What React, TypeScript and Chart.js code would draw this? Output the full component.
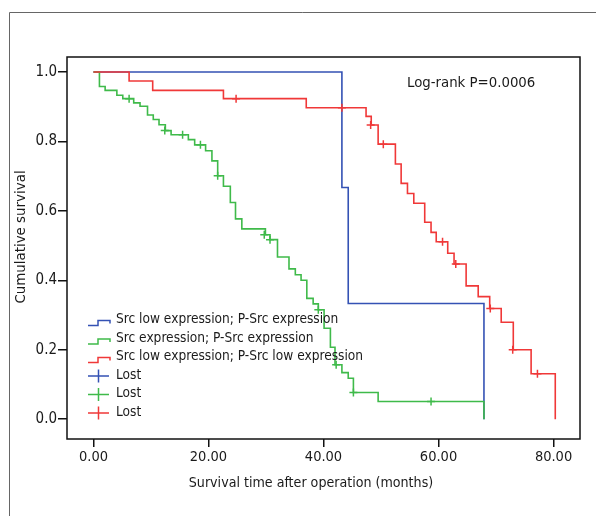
import React, { useEffect, useRef } from 'react';
import { Chart, registerables } from 'chart.js';

Chart.register(...registerables);

const FONT = "'Liberation Sans Narrow', 'DejaVu Sans Condensed', 'Arial Narrow', sans-serif";
const TEXT = '#1a1a1a';

// ---- text ----
const seriesLabels = [
  'Src low expression; P-Src expression',
  'Src expression; P-Src expression',
  'Src low expression; P-Src low expression',
];
const lostLabel = 'Lost';
const logRankText = 'Log-rank P=0.0006';
const xTitle = 'Survival time after operation (months)';
const yTitle = 'Cumulative survival';

// ---- ticks ----
const xTicks = [0, 20, 40, 60, 80];
const yTicks = [0, 0.2, 0.4, 0.6, 0.8, 1.0];

// ---- colours ----
const seriesColors = ['#3452b4', '#3fba4a', '#f03838'];

// ---- blue: Src low; P-Src ----
const blueTime = [0, 43.2, 44.3, 67.9];
const blueSurv = [1, 0.667, 0.333, 0];
const blueLostTime: number[] = [];
const blueLostSurv: number[] = [];

// ---- green: Src; P-Src ----
const greenTime = [0, 1.04, 2.03, 4.07, 5.1, 7.0, 8.1, 9.4, 10.4, 11.4, 12.5, 13.5, 16.5, 17.6, 19.5, 20.6, 21.6, 22.6, 23.8, 24.7, 25.8, 29.9, 30.7, 32.0, 34.0, 35.1, 36.1, 37.1, 38.2, 39.1, 40.1, 41.2, 42.0, 43.2, 44.3, 45.2, 49.5, 67.9];
const greenSurv = [1, 0.958, 0.947, 0.933, 0.923, 0.911, 0.901, 0.876, 0.863, 0.848, 0.831, 0.819, 0.805, 0.790, 0.773, 0.744, 0.701, 0.671, 0.624, 0.577, 0.548, 0.531, 0.517, 0.467, 0.433, 0.416, 0.400, 0.348, 0.332, 0.315, 0.262, 0.207, 0.157, 0.134, 0.118, 0.077, 0.051, 0];
const greenLostTime = [6.2, 12.4, 15.5, 18.6, 21.6, 29.7, 30.7, 39.1, 42.2, 45.2, 58.7];
const greenLostSurv = [0.923, 0.831, 0.819, 0.790, 0.701, 0.531, 0.517, 0.315, 0.157, 0.077, 0.051];

// ---- red: Src low; P-Src low ----
const redTime = [0, 6.2, 10.3, 22.6, 37.0, 47.4, 48.3, 49.5, 52.5, 53.5, 54.6, 55.7, 57.6, 58.7, 59.6, 61.6, 62.7, 64.8, 66.9, 68.9, 70.9, 73.0, 76.1, 80.3];
const redSurv = [1, 0.974, 0.947, 0.923, 0.897, 0.872, 0.847, 0.792, 0.735, 0.679, 0.650, 0.622, 0.567, 0.538, 0.511, 0.478, 0.447, 0.384, 0.353, 0.319, 0.279, 0.200, 0.131, 0];
const redLostTime = [24.8, 43.2, 48.2, 50.4, 60.7, 63.0, 69.0, 72.9, 77.2];
const redLostSurv = [0.923, 0.897, 0.847, 0.792, 0.511, 0.447, 0.319, 0.200, 0.131];

const zip = (xs: number[], ys: number[]) => xs.map((x, i) => ({ x, y: ys[i] }));

const curves = [
  { t: blueTime, s: blueSurv, lt: blueLostTime, ls: blueLostSurv, order: 3 },
  { t: greenTime, s: greenSurv, lt: greenLostTime, ls: greenLostSurv, order: 2 },
  { t: redTime, s: redSurv, lt: redLostTime, ls: redLostSurv, order: 1 },
];

const decorPlugin = {
  id: 'decor',
  beforeDraw(chart: any) {
    const { ctx } = chart;
    ctx.save();
    ctx.fillStyle = '#ffffff';
    ctx.fillRect(0, 0, chart.width, chart.height);
    ctx.strokeStyle = '#666';
    ctx.lineWidth = 1;
    ctx.beginPath();
    ctx.moveTo(9.5, chart.height);
    ctx.lineTo(9.5, 12.5);
    ctx.lineTo(chart.width, 12.5);
    ctx.stroke();
    ctx.restore();
  },
  afterDraw(chart: any) {
    const { ctx, chartArea: a } = chart;
    ctx.save();
    // plot frame
    ctx.strokeStyle = '#111';
    ctx.lineWidth = 1.5;
    ctx.strokeRect(a.left, a.top, a.right - a.left, a.bottom - a.top);

    // y-axis title
    ctx.fillStyle = TEXT;
    ctx.font = `14.9px ${FONT}`;
    ctx.textAlign = 'center';
    ctx.textBaseline = 'middle';
    ctx.save();
    ctx.translate(21, a.top + 180);
    ctx.rotate(-Math.PI / 2);
    ctx.fillText(yTitle, 0, 0);
    ctx.restore();

    // x-axis title
    ctx.font = `14.1px ${FONT}`;
    ctx.fillText(xTitle, a.left + 244, a.bottom + 44);

    // log-rank text
    ctx.font = `14.8px ${FONT}`;
    ctx.textAlign = 'left';
    ctx.fillText(logRankText, a.left + 340, a.top + 26);

    // legend
    const x0 = a.left + 21;
    const x1 = a.left + 31;
    const x2 = a.left + 43;
    const tx = a.left + 49;
    const yStart = a.bottom - 119.5;
    const step = 18.5;
    ctx.font = `13.6px ${FONT}`;
    ctx.lineWidth = 1.5;
    seriesLabels.forEach((lab, i) => {
      const yc = yStart + i * step;
      ctx.strokeStyle = seriesColors[i];
      ctx.beginPath();
      ctx.moveTo(x0, yc + 6);
      ctx.lineTo(x1, yc + 6);
      ctx.lineTo(x1, yc + 1);
      ctx.lineTo(x2, yc + 1);
      ctx.lineTo(x2, yc + 4);
      ctx.stroke();
      ctx.fillStyle = TEXT;
      ctx.fillText(lab, tx, yc);
    });
    seriesColors.forEach((c, i) => {
      const yc = yStart + (i + 3) * step;
      const cx = a.left + 31.5;
      ctx.strokeStyle = c;
      ctx.beginPath();
      ctx.moveTo(cx - 10.5, yc + 1);
      ctx.lineTo(cx + 10.5, yc + 1);
      ctx.moveTo(cx, yc - 5.5);
      ctx.lineTo(cx, yc + 7.5);
      ctx.stroke();
      ctx.fillStyle = TEXT;
      ctx.fillText(lostLabel, tx, yc);
    });
    ctx.restore();
  },
};

export default function App() {
  const ref = useRef<HTMLCanvasElement | null>(null);
  useEffect(() => {
    if (!ref.current) return;
    const datasets: any[] = [];
    curves.forEach((c, i) => {
      datasets.push({
        label: seriesLabels[i],
        data: zip(c.t, c.s),
        stepped: 'before',
        borderColor: seriesColors[i],
        borderWidth: 1.6,
        pointRadius: 0,
        fill: false,
        order: c.order,
      });
      datasets.push({
        label: lostLabel,
        data: zip(c.lt, c.ls),
        showLine: false,
        pointStyle: 'cross',
        pointRadius: 4,
        pointBorderColor: seriesColors[i],
        pointBackgroundColor: seriesColors[i],
        pointBorderWidth: 1.5,
        order: c.order,
      });
    });
    const chart = new Chart(ref.current, {
      type: 'line',
      data: { datasets },
      options: {
        responsive: false,
        animation: false,
        layout: { padding: { left: 0, top: 57, right: 16, bottom: 0 } },
        plugins: { legend: { display: false }, tooltip: { enabled: false } },
        scales: {
          x: {
            type: 'linear',
            min: -4.6,
            max: 84.6,
            afterBuildTicks: (s: any) => { s.ticks = xTicks.map((v) => ({ value: v })); },
            afterFit: (s: any) => { s.height = 77; },
            ticks: {
              callback: (v: any) => Number(v).toFixed(2),
              font: { family: FONT, size: 14.5 },
              color: TEXT,
              padding: 2,
              maxRotation: 0,
            },
            grid: { display: true, drawOnChartArea: false, drawTicks: true, tickLength: 8, color: '#111', lineWidth: 1.5 },
            border: { display: false },
            title: { display: false },
          },
          y: {
            type: 'linear',
            min: -0.057,
            max: 1.043,
            afterBuildTicks: (s: any) => { s.ticks = yTicks.map((v) => ({ value: v })); },
            afterFit: (s: any) => { s.width = 67; },
            ticks: {
              callback: (v: any) => Number(v).toFixed(1),
              font: { family: FONT, size: 15 },
              color: TEXT,
              padding: 1,
            },
            grid: { display: true, drawOnChartArea: false, drawTicks: true, tickLength: 9, color: '#111', lineWidth: 1.5 },
            border: { display: false },
            title: { display: false },
          },
        },
      },
      plugins: [decorPlugin],
    });
    return () => chart.destroy();
  }, []);
  return (
    <div style={{ position: 'fixed', left: 0, top: 0, width: 596, height: 516, background: '#fff' }}>
      <canvas ref={ref} width={596} height={516} style={{ width: 596, height: 516, display: 'block' }} />
    </div>
  );
}
